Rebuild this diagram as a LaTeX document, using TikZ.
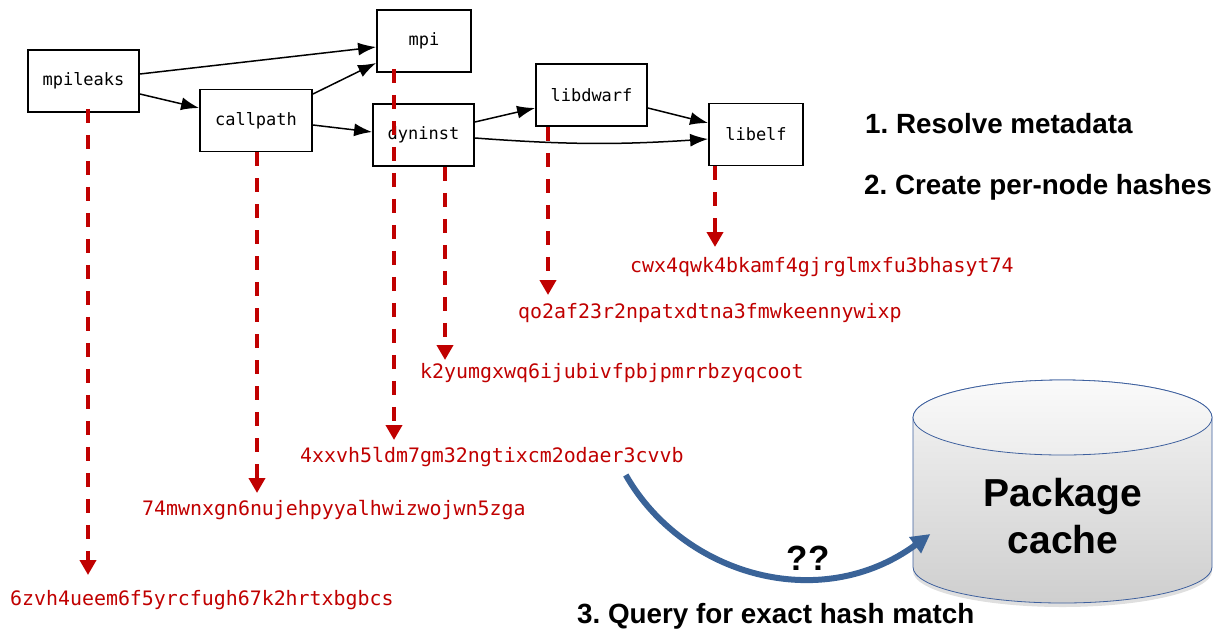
\documentclass[tikz,border=0pt]{standalone}
\usepackage{fontspec}
\setmainfont{Liberation Sans}
\setmonofont{DejaVu Sans Mono}
\usepackage{xcolor}
\usepackage{tikz}
\usetikzlibrary{arrows.meta,calc,shadows}

\definecolor{hashred}{RGB}{192,0,0}
\definecolor{queryblue}{RGB}{58,99,152}
\definecolor{cylline}{RGB}{62,96,158}

\tikzset{
    pkg/.style={
        draw=black,
        fill=white,
        line width=1.8pt,
        minimum height=62pt,
        inner sep=0pt,
        font=\ttfamily\fontsize{17}{20}\selectfont
    },
    dep/.style={
        line width=1.5pt,
        -{Latex[length=18pt,width=13pt]}
    },
    hashlbl/.style={
        anchor=west,
        inner sep=0pt,
        text=hashred,
        font=\ttfamily\fontsize{19.9}{24}\selectfont
    },
    hasharrow/.style={
        draw=hashred,
        line width=4.5pt,
        dash pattern=on 14pt off 12pt,
        -{Triangle[length=15pt,width=16pt]}
    },
    steplbl/.style={
        anchor=base west,
        inner sep=0pt,
        font=\frenchspacing\bfseries\fontsize{27.8}{34}\selectfont
    },
    query/.style={
        draw=queryblue,
        line width=6pt,
        -{Triangle[length=19pt,width=19pt]}
    }
}

\begin{document}
\begin{tikzpicture}[x=1pt,y=-1pt]
                \useasboundingbox (0,0) rectangle (1213,630);

                \node[pkg, minimum width=111pt] (mpileaks) at (83.5,81) {mpileaks};
                \node[pkg, minimum width=112pt] (callpath) at (256,120.5) {callpath};
                \node[pkg, minimum width=94pt] (mpi) at (424,41) {mpi};
                \node[pkg, minimum width=101pt] (dyninst) at (423.5,135) {dyninst};
                \node[pkg, minimum width=111pt] (libdwarf) at (591.5,95) {libdwarf};
                \node[pkg, minimum width=94pt] (libelf) at (756,134.5) {libelf};

                \draw[dep] ([yshift=7pt]mpileaks.east) -- ([yshift=-6pt]mpi.west);
                \draw[dep] ([yshift=-13pt]mpileaks.east) -- ([yshift=12.5pt]callpath.west);
                \draw[dep] ([yshift=26.5pt]callpath.east) -- ([yshift=-22pt]mpi.west);
                \draw[dep] ([yshift=-4.5pt]callpath.east) -- ([yshift=3pt]dyninst.west);
                \draw[dep] ([yshift=13pt]dyninst.east) -- ([yshift=-13pt]libdwarf.west);
                \draw[dep] ([yshift=-3pt]dyninst.east) to[bend right=4] ([yshift=-4.5pt]libelf.west);
                \draw[dep] ([yshift=-13pt]libdwarf.east) -- ([yshift=11.5pt]libelf.west);

                \node[hashlbl] (h-mpileaks) at (10,600) {6zvh4ueem6f5yrcfugh67k2hrtxbgbcs};
                \node[hashlbl] (h-callpath) at (142,510) {74mwnxgn6nujehpyyalhwizwojwn5zga};
                \node[hashlbl] (h-mpi) at (300,457) {4xxvh5ldm7gm32ngtixcm2odaer3cvvb};
                \node[hashlbl] (h-dyninst) at (420,373) {k2yumgxwq6ijubivfpbjpmrrbzyqcoot};
                \node[hashlbl] (h-libdwarf) at (518,313) {qo2af23r2npatxdtna3fmwkeennywixp};
                \node[hashlbl] (h-libelf) at (630,267) {cwx4qwk4bkamf4gjrglmxfu3bhasyt74};

                \draw[hasharrow] ($(mpileaks.south)+(4.5,-4)$) -- ($(mpileaks.south |- h-mpileaks.west)+(4.5,-25)$);
                \draw[hasharrow] ($(callpath.south)+(1,0)$) -- ($(callpath.south |- h-callpath.west)+(1,-17)$);
                \draw[hasharrow] ($(mpi.south)+(-30,-4)$) -- ($(mpi.south |- h-mpi.west)+(-30,-17)$);
                \draw[hasharrow] ($(dyninst.south)+(21.5,0)$) -- ($(dyninst.south |- h-dyninst.west)+(21.5,-13)$);
                \draw[hasharrow] ($(libdwarf.south)+(-43.5,0)$) -- ($(libdwarf.south |- h-libdwarf.west)+(-43.5,-18)$);
                \draw[hasharrow] ($(libelf.south)+(-41,0)$) -- ($(libelf.south |- h-libelf.west)+(-41,-20)$);

                \node[steplbl] (step1) at (865,133) {1. Resolve metadata};
                \node[steplbl] (step2) at (864,194) {2. Create per-node hashes};
                \node[steplbl] (step3) at (577,623) {3. Query for exact hash match};

                \path[
                    draw=cylline,
                    line width=0.8pt,
                    top color=gray!8,
                    bottom color=gray!38,
                    drop shadow={shadow xshift=0pt, shadow yshift=-4pt, opacity=0.25}
                ] (913,417.5) -- (913,567)
                    arc[start angle=180, end angle=360, x radius=149.5pt, y radius=36pt]
                    -- (1212,417.5)
                    arc[start angle=0, end angle=180, x radius=149.5pt, y radius=37.5pt]
                    -- cycle;
                \draw[
                    draw=cylline,
                    line width=0.8pt,
                    top color=gray!4,
                    bottom color=gray!14
                ] (1062.5,417.5) ellipse[x radius=149.5pt, y radius=37.5pt];

                \node[
                    font=\bfseries\fontsize{39}{47}\selectfont,
                    align=center
                ] (cache) at (1063,516) {Package\\cache};

                \draw[query] ($(h-mpi.east)+(-58,18)$) .. controls +(57,100) and +(-110,81) .. ($(cache.west)+(-50,18)$);
                \node[
                    font=\bfseries\fontsize{35}{40}\selectfont,
                    anchor=base
                ] (qq) at (808,570) {??};
\end{tikzpicture}
\end{document}
